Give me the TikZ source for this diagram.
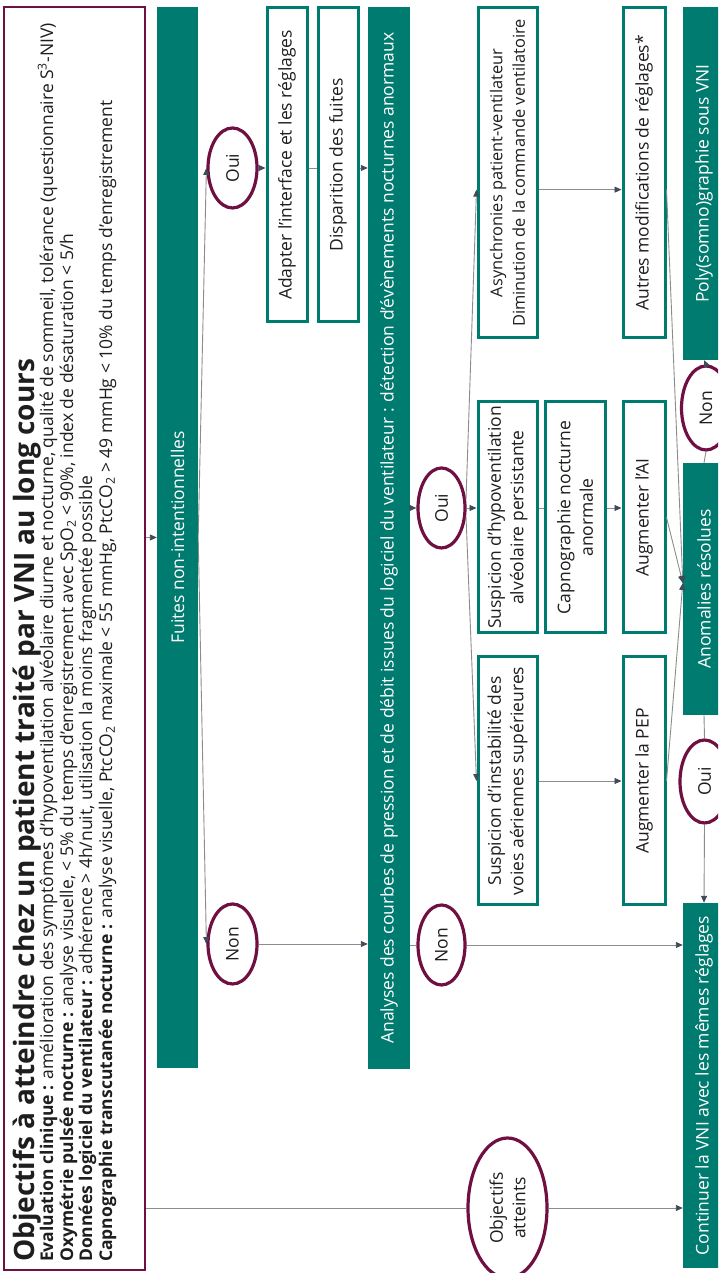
\documentclass[tikz,border=0pt]{standalone}
\usepackage{fontspec}
\setmainfont{Open Sans}
\usetikzlibrary{shapes.geometric,arrows.meta,calc}
\definecolor{teal1}{RGB}{0,123,111}
\definecolor{purp}{RGB}{112,16,66}
\definecolor{lgray}{RGB}{140,140,140}
\definecolor{tipc}{RGB}{64,74,88}
\definecolor{txt}{RGB}{30,30,30}
\newcommand{\boxfnt}{\fontsize{17.5}{22.5}\selectfont}
\newcommand{\smallboxfnt}{\fontsize{16.4}{22.5}\selectfont}
\newcommand{\bodyfnt}{\fontsize{17.5}{19.5}\selectfont}
\newcommand{\titlefnt}{\fontsize{28}{32}\selectfont\bfseries}
\begin{document}
\begin{tikzpicture}[x=1pt,y=1pt,
  bar/.style={fill=teal1, draw=none, text=white, font=\boxfnt, inner sep=0pt},
  wbox/.style={fill=white, draw=teal1, line width=3pt, text=txt, font=\boxfnt, inner sep=0pt, align=center},
  oval/.style={ellipse, fill=white, draw=purp, line width=3.2pt, text=txt, font=\boxfnt, inner sep=0pt, align=center},
  conn/.style={draw=lgray, line width=0.9pt},
  arr/.style={conn, -{Triangle[length=7pt,width=6pt,color=tipc]}},
  body/.style={anchor=base west, inner sep=0pt, text=txt, font=\bodyfnt}]
\begin{scope}[rotate=90, transform shape]
\useasboundingbox (0,0) rectangle (1273,-718);
\clip (0,0) rectangle (1273,-718);
\fill[white] (0,0) rectangle (1273,-718);
% objectives box
\node[draw=purp, line width=2.5pt, minimum width=1263pt, minimum height=141pt, inner sep=0pt] (obj) at (634.5,-74.5) {};
\node[anchor=base west, inner sep=0pt, font=\titlefnt, text=txt] (t0) at (11,-34) {Objectifs à atteindre chez un patient traité par VNI au long cours};
\node[body] (t1) at (11,-53) {\textbf{Evaluation clinique :} amélioration des symptômes d’hypoventilation alvéolaire diurne et nocturne, qualité de sommeil, tolérance (questionnaire S\textsuperscript{3}-NIV)};
\node[body] (t2) at (11,-73) {\textbf{Oxymétrie pulsée nocturne :} analyse visuelle, < 5\% du temps d’enregistrement avec SpO\textsubscript{2} < 90\%, index de désaturation < 5/h};
\node[body] (t3) at (11,-92) {\textbf{Données logiciel du ventilateur :} adhérence > 4h/nuit, utilisation la moins fragmentée possible};
\node[body] (t4) at (11,-112) {\textbf{Capnographie transcutanée nocturne :} analyse visuelle, PtcCO\textsubscript{2} maximale < 55 mmHg, PtcCO\textsubscript{2} > 49 mmHg < 10\% du temps d’enregistrement};
% first level
\node[bar, minimum width=1061pt, minimum height=41pt] (fuites) at (735.5,-177.5) {Fuites non-intentionnelles};
\node[oval, minimum width=80pt, minimum height=49pt] (oui1) at (1105,-232.5) {Oui};
\node[oval, minimum width=80pt, minimum height=49pt] (non1) at (329,-232.5) {Non};
\node[wbox, minimum width=314pt, minimum height=40pt] (adapter) at (1108,-287) {Adapter l’interface et les réglages};
\node[wbox, minimum width=314pt, minimum height=40pt] (dispar) at (1108,-338) {Disparition des fuites};
\node[bar, minimum width=1062pt, minimum height=42pt] (analyses) at (735,-389) {Analyses des courbes de pression et de débit issues du logiciel du ventilateur : détection d’évènements nocturnes anormaux};
\node[oval, minimum width=80pt, minimum height=47pt] (oui2) at (765,-441.5) {Oui};
\node[oval, minimum width=80pt, minimum height=47pt] (non2) at (328,-441.5) {Non};
\node[wbox, minimum width=248pt, minimum height=59pt] (instab) at (492,-507.5) {Suspicion d’instabilité des\\voies aériennes supérieures};
\node[wbox, minimum width=231pt, minimum height=59pt] (hypo) at (755.5,-507.5) {Suspicion d’hypoventilation\\alvéolaire persistante};
\node[wbox, minimum width=330pt, minimum height=59pt, font=\smallboxfnt] (asyn) at (1100,-507.5) {Asynchronies patient-ventilateur\\Diminution de la commande ventilatoire};
\node[wbox, minimum width=231pt, minimum height=60pt] (capno) at (755.5,-575) {Capnographie nocturne\\anormale};
\node[wbox, minimum width=248pt, minimum height=42pt] (pep) at (492,-644) {Augmenter la PEP};
\node[wbox, minimum width=231pt, minimum height=42pt] (ai) at (755.5,-644) {Augmenter l’AI};
\node[wbox, minimum width=330pt, minimum height=42pt] (autres) at (1100,-644) {Autres modifications de réglages*};
% bottom row
\node[bar, minimum width=365pt, minimum height=42pt] (continuer) at (187.5,-704) {Continuer la VNI avec les mêmes réglages};
\node[oval, minimum width=83pt, minimum height=49pt] (oui3) at (491.5,-704.5) {Oui};
\node[bar, minimum width=252pt, minimum height=42pt] (anom) at (684,-704) {Anomalies résolues};
\node[oval, minimum width=84pt, minimum height=49pt] (non3) at (865,-706) {Non};
\node[bar, minimum width=353pt, minimum height=42pt] (poly) at (1089.5,-704) {Poly(somno)graphie sous VNI};
\node[oval, minimum width=140pt, minimum height=79pt] (objatt) at (65,-507.5) {Objectifs\\atteints};
% connectors
\draw[arr] (fuites.north |- obj.south) -- (fuites.north);
\draw[arr] (fuites.south) -- (oui1.north);
\draw[arr] (fuites.south) -- (non1.north);
\draw[arr] (oui1.south) -- (oui1.south |- adapter.north);
\draw[conn] (oui1.center |- adapter.south) -- (oui1.center |- dispar.north);
\draw[arr] (oui1.center |- dispar.south) -- (oui1.center |- analyses.north);
\draw[arr] (non1.south) -- (non1.center |- analyses.north);
\draw[arr] (oui2.center |- analyses.south) -- (oui2.north);
\draw[conn] (non2.center |- analyses.south) -- (non2.north);
\draw[arr] (oui2.south) -- (oui2.center |- hypo.north);
\draw[arr] (oui2.250) -- (instab.north);
\coordinate (asynin) at ($(asyn.north west)!0.45!(asyn.north east)$);
\coordinate (asynout) at ($(asyn.south west)!0.45!(asyn.south east)$);
\coordinate (anomin) at ($(anom.north west)!0.524!(anom.north east)$);
\draw[arr] (oui2.290) -- (asynin);
\draw[conn] (oui2.center |- hypo.south) -- (oui2.center |- capno.north);
\draw[arr] (oui2.center |- capno.south) -- (oui2.center |- ai.north);
\draw[arr] (instab.south) -- (instab.south |- pep.north);
\draw[arr] (asynout) -- (asynout |- autres.north);
\draw[arr] (pep.south) -- (anomin);
\draw[arr] (ai.south) -- (anomin);
\draw[arr] (asynout |- autres.south) -- (anomin);
\draw[arr] (non2.south) -- (non2.center |- continuer.north);
\draw[conn] (objatt.center |- obj.south) -- (objatt.north);
\draw[arr] (objatt.south) -- (objatt.center |- continuer.north);
\draw[conn] (anom.west) -- (oui3.east);
\draw[arr] (oui3.west) -- (continuer.east);
\draw[conn] (anom.east) -- (non3.west);
\draw[arr] (non3.east) -- (poly.west);
\end{scope}
\end{tikzpicture}
\end{document}
